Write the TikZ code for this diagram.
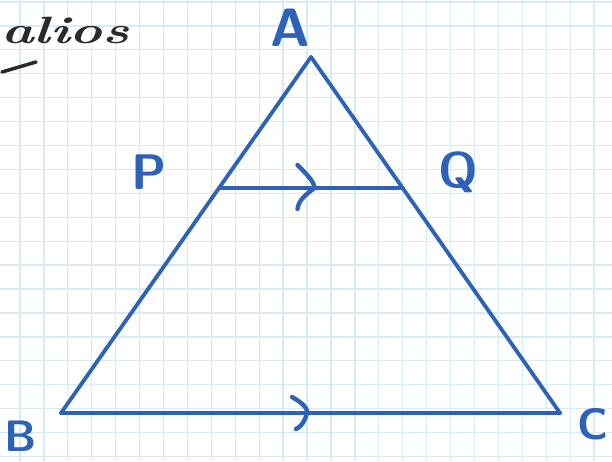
\documentclass[tikz,border=0pt]{standalone}
\usepackage{tikz}
\usetikzlibrary{decorations.markings,positioning,calc}
\usepackage{xcolor}
\definecolor{inkBlue}{HTML}{2E62B8}
\definecolor{inkDark}{HTML}{2A2A2A}
\definecolor{gridLine}{HTML}{D6EBFA}
\tikzset{
  side/.style={draw=inkBlue, line width=3.8pt, line join=round, line cap=round},
  gridpaper/.style={draw=gridLine, line width=1.3pt},
  vlabel/.style={text=inkBlue, font=\fontsize{50}{50}\selectfont\sffamily, inner sep=0pt},
  chevPQ/.style={postaction={decorate}, decoration={markings, mark=at position 0.52 with {
    \draw[inkBlue, line width=4.4pt, line cap=round] (-17pt,23pt) .. controls (-8pt,14pt) and (0pt,6pt) .. (0pt,0pt) .. controls (-8pt,-6pt) and (-16pt,-12pt) .. (-17pt,-21pt);}}},
  chevBC/.style={postaction={decorate}, decoration={markings, mark=at position 0.493 with {
    \draw[inkBlue, line width=4.4pt, line cap=round] (-15pt,16pt) .. controls (-8pt,12pt) and (1pt,6pt) .. (0pt,0pt) .. controls (-2pt,-8pt) and (-6pt,-14pt) .. (-11pt,-16pt);}}}
}
\begin{document}
\begin{tikzpicture}[x=1pt,y=-1pt]
  \clip (0,0) rectangle (612,461);
  \fill[white] (0,0) rectangle (612,461);
  % squared paper
  \foreach \k in {0,...,24}{\draw[gridpaper] (20+23.92*\k,0) -- (20+23.92*\k,461);}
  \foreach \k in {0,...,19}{\draw[gridpaper] (0,2+23.92*\k) -- (612,2+23.92*\k);}
  % heading
  \node[text=inkDark, font=\fontsize{38}{38}\selectfont\bfseries\itshape, xscale=1.45, transform shape, anchor=west, inner sep=0pt] (head) at (1,30) {alios};
  \draw[inkDark, line width=3.5pt, line cap=round] (2,72) -- (36,62);
  \coordinate (A) at (311,57);
  \coordinate (B) at (61,413);
  \coordinate (C) at (560,413);
  \coordinate (P) at ($(A)!0.368!(B)$);
  \coordinate (Q) at ($(A)!0.368!(C)$);
  \draw[side] (A) -- (B) -- (C) -- cycle;
  \draw[side, chevPQ] (P) -- (Q);
  \draw[side, chevBC] (B) -- (C);
  \node[vlabel, font=\fontsize{54}{54}\selectfont\sffamily\bfseries] (lblA) at (290,28) {A};
  \node[vlabel, font=\fontsize{50}{50}\selectfont\sffamily\bfseries] (lblP) at (149,172) {P};
  \node[vlabel, font=\fontsize{50}{50}\selectfont\sffamily\bfseries] (lblQ) at (458,172) {Q};
  \node[vlabel, font=\fontsize{44}{44}\selectfont\sffamily\bfseries] (lblB) at (21,436) {B};
  \node[vlabel, font=\fontsize{44}{44}\selectfont\sffamily\bfseries] (lblC) at (593,424) {C};
\end{tikzpicture}
\end{document}
